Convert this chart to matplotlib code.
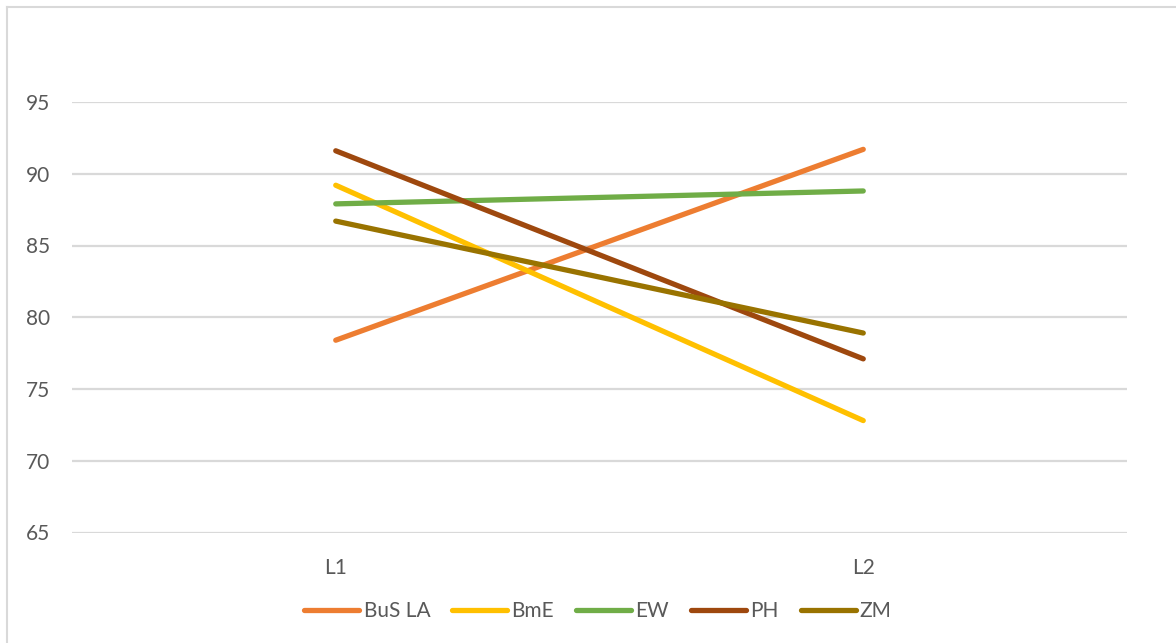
import matplotlib
matplotlib.use("Agg")
import matplotlib.pyplot as plt
from matplotlib.lines import Line2D

plt.rcParams['font.family'] = ['Lato', 'DejaVu Sans']

categories = ["L1", "L2"]
series_names = ["BuS LA", "BmE", "EW", "PH", "ZM"]
bus_la = [78.4, 91.7]
bme = [89.2, 72.8]
ew = [87.9, 88.8]
ph = [91.6, 77.1]
zm = [86.7, 78.9]
values = [bus_la, bme, ew, ph, zm]
colors = ["#ED7D31", "#FFC000", "#70AD47", "#9E480E", "#997300"]
yticks = [65, 70, 75, 80, 85, 90, 95]

W, H = 1176, 643
fig = plt.figure(figsize=(W / 100, H / 100), dpi=100)
ax = fig.add_axes([72 / W, 1 - 532.5 / H, (1127 - 72) / W, (532.5 - 102) / H])

x = [0, 1]
for name, vals, c in zip(series_names, values, colors):
    ax.plot(x, vals, color=c, lw=3.8, solid_capstyle='round', label=name)

ax.set_xlim(-0.5, 1.5)
ax.set_ylim(65, 95)
ax.set_yticks(yticks)
ax.set_xticks(x)
ax.set_xticklabels(categories)
ax.grid(axis='y', color='#D9D9D9', lw=1.6)
ax.set_axisbelow(True)
for s in ax.spines.values():
    s.set_visible(False)
ax.tick_params(axis='both', length=0, labelsize=15, labelcolor='#595959')
ax.tick_params(axis='y', pad=16)
ax.tick_params(axis='x', pad=18)

# outer chart border (top and left visible)
fig.add_artist(Line2D([7 / W, 7 / W], [0, 1 - 7 / H], color='#D9D9D9', lw=1.5, transform=fig.transFigure))
fig.add_artist(Line2D([7 / W, 1], [1 - 7 / H, 1 - 7 / H], color='#D9D9D9', lw=1.5, transform=fig.transFigure))

handles = [Line2D([0], [0], color=c, lw=3.8, solid_capstyle='round') for c in colors]
leg = fig.legend(handles, series_names, loc='center', bbox_to_anchor=(598 / W, 1 - 611 / H),
                 ncol=5, frameon=False, fontsize=15, handlelength=2.65, handletextpad=0.2,
                 columnspacing=1.05)
for t in leg.get_texts():
    t.set_color('#595959')

fig.savefig("out.png", dpi=100, facecolor='white')
